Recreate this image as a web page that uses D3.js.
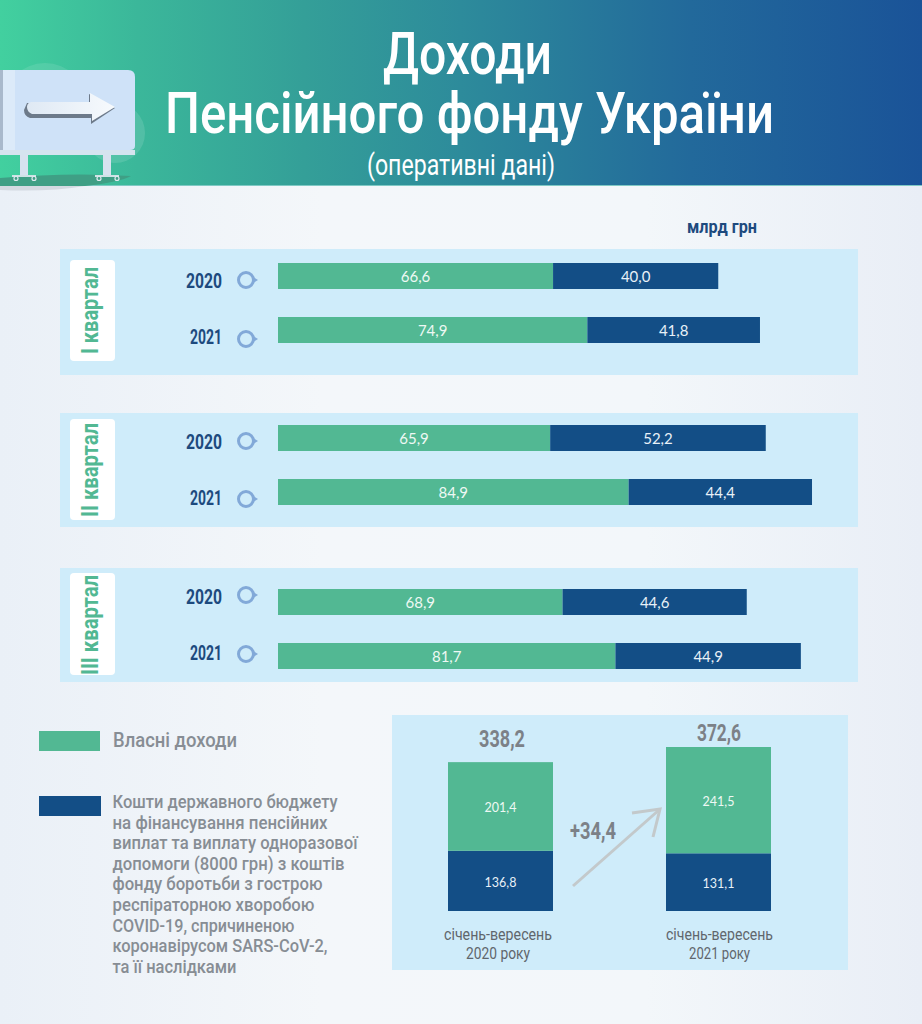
<!DOCTYPE html>
<html lang="uk">
<head>
    <meta charset="UTF-8">
    <title>Доходи Пенсійного фонду України</title>
    <script src="https://d3js.org/d3.v7.min.js"></script>
    <style>
        html, body { margin: 0; padding: 0; background: #f3f6fa; }
        svg { display: block; }
    </style>
</head>
<body>
    <svg width="922" height="1024" id="chart"></svg>

    <script>
        // Values
        const quarters = ["I квартал", "II квартал", "III квартал"];
        const years = ["2020", "2021"];
        const own2020 = [66.6, 65.9, 68.9];
        const own2021 = [74.9, 84.9, 81.7];
        const budget2020 = [40.0, 52.2, 44.6];
        const budget2021 = [41.8, 44.4, 44.9];

        const periodLabels = [["січень-вересень", "2020 року"], ["січень-вересень", "2021 року"]];
        const periodOwn = [201.4, 241.5];
        const periodBudget = [136.8, 131.1];
        const periodTotals = [338.2, 372.6];
        const periodDiff = "+34,4";

        const legendOwn = "Власні доходи";
        const legendBudget = [
            "Кошти державного бюджету",
            "на фінансування пенсійних",
            "виплат та виплату одноразової",
            "допомоги (8000 грн) з коштів",
            "фонду боротьби з гострою",
            "респіраторною хворобою",
            "COVID-19, спричиненою",
            "коронавірусом SARS-CoV-2,",
            "та її наслідками"
        ];

        // Colors
        const green = "#52b893";
        const navy = "#134e86";
        const panelColor = "#cfecfa";
        const greyText = "#878d94";
        const darkBlue = "#1d4a7e";

        // Layout of the three quarter panels
        const panels = [
            { top: 249, bottom: 375, labelTop: 260, labelBottom: 361, labelLen: 87, labelEnd: 354, bars: [263, 317], yearY: [288, 344], ringY: [280, 339] },
            { top: 413, bottom: 527, labelTop: 419, labelBottom: 520, labelLen: 94, labelEnd: 517, bars: [425, 479], yearY: [449, 505], ringY: [441, 499] },
            { top: 568, bottom: 682, labelTop: 573, labelBottom: 675, labelLen: 100, labelEnd: 675, bars: [589, 643], yearY: [604, 660], ringY: [595, 654] }
        ];
        const barHeight = 26;

        const fmt = d3.formatLocale({ decimal: ",", thousands: " ", grouping: [3], currency: ["", ""] }).format(".1f");

        const svg = d3.select("#chart");
        const defs = svg.append("defs");

        function gradient(id, stops, x2, y2) {
            const g = defs.append("linearGradient").attr("id", id)
                .attr("x1", 0).attr("y1", 0).attr("x2", x2).attr("y2", y2);
            stops.forEach(s => g.append("stop").attr("offset", s[0]).attr("stop-color", s[1]));
        }
        gradient("bg", [[0, "#eaf0f7"], [0.35, "#f4f7fa"], [0.7, "#f3f7fa"], [1, "#e9eef6"]], 1, 0);
        gradient("head", [[0, "#42d09f"], [0.15, "#3bb79a"], [0.33, "#349f98"], [0.5, "#2d8b9b"], [0.75, "#22699b"], [1, "#1a5398"]], 1, 0);
        gradient("arrowFill", [[0, "#dfe9f4"], [1, "#f7fafd"]], 1, 0);

        // Text helper: width is forced so the narrow look of the original lettering is kept
        function label(parent, str, o) {
            const t = parent.append("text")
                .attr("x", o.x).attr("y", o.y)
                .attr("fill", o.fill)
                .attr("text-anchor", o.anchor || "start")
                .style("font-family", o.font || "Roboto")
                .style("font-size", o.size + "px")
                .style("font-weight", o.weight || 400)
                .text(str);
            if (o.width) t.attr("textLength", o.width).attr("lengthAdjust", "spacingAndGlyphs");
            return t;
        }

        // Several lines in one text element, each forced to its own width
        function multiline(parent, lines, widths, o) {
            const t = parent.append("text")
                .attr("fill", o.fill)
                .attr("text-anchor", o.anchor || "start")
                .style("font-family", "Roboto")
                .style("font-size", o.size + "px")
                .style("font-weight", o.weight || 400);
            lines.forEach((line, i) => {
                t.append("tspan")
                    .attr("x", o.x).attr("y", o.y + i * o.pitch)
                    .attr("textLength", widths[i]).attr("lengthAdjust", "spacingAndGlyphs")
                    .text(line);
            });
        }

        // Page background and header
        svg.append("rect").attr("width", 922).attr("height", 1024).attr("fill", "url(#bg)");
        svg.append("rect").attr("width", 922).attr("height", 185).attr("fill", "url(#head)");
        svg.append("rect").attr("y", 185).attr("width", 922).attr("height", 1).attr("fill", "#7fc9c4");

        // Billboard decoration
        const sign = svg.append("g");
        sign.append("circle").attr("cx", 45).attr("cy", 105).attr("r", 42).attr("fill", "#ffffff").attr("opacity", 0.1);
        sign.append("circle").attr("cx", 115).attr("cy", 133).attr("r", 30).attr("fill", "#ffffff").attr("opacity", 0.12);
        sign.append("path").attr("d", "M0,186 L0,178 Q70,172 131,176 Q120,182 85,186 Z").attr("fill", "#3f9f85");
        sign.append("path").attr("d", "M0,186 L85,186 Q50,192 0,190 Z").attr("fill", "#d4dae2");
        [20, 103].forEach(px => {
            sign.append("rect").attr("x", px).attr("y", 155).attr("width", 8).attr("height", 22).attr("fill", "#d7e2ef");
            sign.append("rect").attr("x", px - 8).attr("y", 175).attr("width", 24).attr("height", 2).attr("fill", "#cfe3e6");
            [-6, 12].forEach(dx => sign.append("circle").attr("cx", px + dx + 2).attr("cy", 178.5).attr("r", 2)
                .attr("fill", "none").attr("stroke", "#dfeaf0").attr("stroke-width", 1.2));
        });
        sign.append("path").attr("d", "M0,70 H128 Q135,70 135,77 V146 Q135,150 130,150 H0 Z").attr("fill", "#cfe2f8");
        sign.append("rect").attr("x", 0).attr("y", 70).attr("width", 3).attr("height", 80).attr("fill", "#a9b9cc");
        sign.append("rect").attr("x", 3).attr("y", 70).attr("width", 12).attr("height", 80).attr("fill", "#dceaf9");
        sign.append("rect").attr("x", 0).attr("y", 150).attr("width", 135).attr("height", 5).attr("fill", "#d5e4ef");
        sign.append("path").attr("d", "M27,103 H89 V94 L115,108 L91,124 V118 H30 Q24,116 24,110 Z").attr("fill", "#6d7a8a");
        sign.append("path").attr("d", "M31,102 H90 V93 L115,107 L92,121 V114 H32 Q27,112 27,107 Q27,103 31,102 Z").attr("fill", "url(#arrowFill)");

        // Title
        label(svg, "Доходи", { x: 383, y: 74, fill: "#fff", size: 60, weight: 500, width: 169 });
        label(svg, "Пенсійного фонду України", { x: 165, y: 133, fill: "#fff", size: 58, weight: 500, width: 609 });
        label(svg, "(оперативні дані)", { x: 367, y: 175, fill: "#fff", size: 29, width: 188 });
        label(svg, "млрд грн", { x: 687, y: 233, fill: darkBlue, size: 18, weight: 700, width: 70 });

        // Quarter panels
        const x = d3.scaleLinear().domain([0, 130]).range([278, 278 + 130 * 4.13]);

        quarters.forEach((q, i) => {
            const p = panels[i];
            const g = svg.append("g");
            g.append("rect").attr("x", 60).attr("y", p.top).attr("width", 798).attr("height", p.bottom - p.top).attr("fill", panelColor);
            g.append("rect").attr("x", 70).attr("y", p.labelTop).attr("width", 45).attr("height", p.labelBottom - p.labelTop)
                .attr("rx", 4).attr("fill", "#fff");

            g.append("text")
                .attr("transform", `translate(98,${p.labelEnd}) rotate(-90)`)
                .attr("fill", green)
                .attr("textLength", p.labelLen).attr("lengthAdjust", "spacingAndGlyphs")
                .style("font-family", "Roboto").style("font-size", "24px").style("font-weight", 700)
                .text(q);

            const own = [own2020[i], own2021[i]];
            const budget = [budget2020[i], budget2021[i]];

            years.forEach((year, j) => {
                const y = p.bars[j];
                g.append("rect").attr("x", x(0)).attr("y", y).attr("width", x(own[j]) - x(0)).attr("height", barHeight).attr("fill", green);
                g.append("rect").attr("x", x(own[j])).attr("y", y).attr("width", x(own[j] + budget[j]) - x(own[j])).attr("height", barHeight).attr("fill", navy);

                label(g, fmt(own[j]), { x: (x(0) + x(own[j])) / 2, y: y + 18.5, fill: "#eef8f4", size: 15, font: "Lato", anchor: "middle" });
                label(g, fmt(budget[j]), { x: (x(own[j]) + x(own[j] + budget[j])) / 2, y: y + 18.5, fill: "#e8f1f8", size: 15, font: "Lato", anchor: "middle" });

                label(g, year, { x: 222, y: p.yearY[j], fill: darkBlue, size: 20, weight: 700, anchor: "end", width: year === "2020" ? 36 : 32 });

                const ry = p.ringY[j];
                g.append("circle").attr("cx", 246).attr("cy", ry).attr("r", 7.5).attr("fill", "none").attr("stroke", "#82a9d8").attr("stroke-width", 3);
                g.append("path").attr("d", `M253,${ry - 3} L258,${ry} L253,${ry + 3} Z`).attr("fill", "#82a9d8");
            });
        });

        // Legend
        svg.append("rect").attr("x", 39).attr("y", 731).attr("width", 61).attr("height", 20).attr("fill", green);
        svg.append("rect").attr("x", 39).attr("y", 796).attr("width", 62).attr("height", 20).attr("fill", navy);
        label(svg, legendOwn, { x: 113, y: 747, fill: greyText, size: 21, weight: 500, width: 124 });

        const legendWidths = [225, 215, 245, 232, 210, 202, 182, 215, 124];
        multiline(svg, legendBudget, legendWidths, { x: 112.5, y: 808, pitch: 20.6, fill: greyText, size: 17.6, weight: 500 });

        // January-September panel
        svg.append("rect").attr("x", 392).attr("y", 715).attr("width", 456).attr("height", 255).attr("fill", panelColor);

        const yStack = d3.scaleLinear().domain([0, 372.6]).range([911, 747]);
        const colX = [448, 666];
        const colW = 105;
        const totalX = [502, 719];
        const totalY = [747, 741];
        const totalW = [46, 44];
        const captionX = [498, 719.5];
        const captionW = [[108, 64], [107, 61]];

        periodTotals.forEach((total, i) => {
            const mid = colX[i] + colW / 2;
            const own = periodOwn[i];
            const budget = periodBudget[i];

            svg.append("rect").attr("x", colX[i]).attr("y", yStack(budget)).attr("width", colW).attr("height", yStack(0) - yStack(budget)).attr("fill", navy);
            svg.append("rect").attr("x", colX[i]).attr("y", yStack(budget + own)).attr("width", colW).attr("height", yStack(budget) - yStack(budget + own)).attr("fill", green);

            label(svg, fmt(own), { x: mid, y: (yStack(budget) + yStack(budget + own)) / 2 + 5.5, fill: "#eef8f4", size: 12.5, font: "Lato", anchor: "middle" });
            label(svg, fmt(budget), { x: mid, y: (yStack(0) + yStack(budget)) / 2 + 6, fill: "#e8f1f8", size: 12.5, font: "Lato", anchor: "middle" });

            label(svg, fmt(total), { x: totalX[i], y: totalY[i], fill: "#7c8187", size: 24, weight: 700, anchor: "middle", width: totalW[i] });

            multiline(svg, periodLabels[i], captionW[i], { x: captionX[i], y: 940, pitch: 18.5, fill: "#5f666c", size: 15.8, anchor: "middle" });
        });

        // Growth arrow
        const arrow = svg.append("g").attr("fill", "none").attr("stroke", "#c3c9cb").attr("stroke-width", 3);
        arrow.append("path").attr("d", "M573,886 L659,810");
        arrow.append("path").attr("d", "M632,813 L660,809 L653,837");
        label(svg, periodDiff, { x: 570, y: 839, fill: "#7c8187", size: 23, weight: 700, width: 46 });
    </script>
</body>
</html>
